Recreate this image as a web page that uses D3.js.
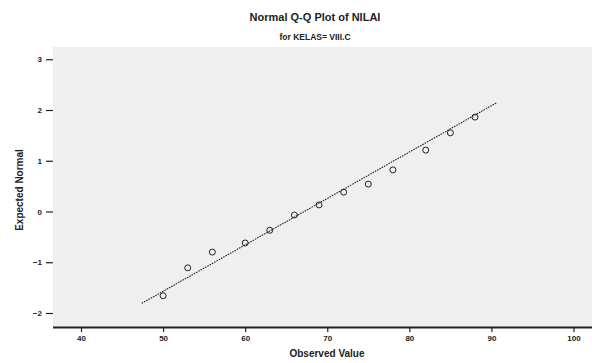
<!DOCTYPE html>
<html>
<head>
<meta charset="utf-8">
<script src="https://cdn.jsdelivr.net/npm/d3@7"></script>
<style>
  html, body { margin: 0; padding: 0; background: #fff; }
  svg { display: block; font-family: "Liberation Sans", Arial, sans-serif; }
</style>
</head>
<body>
<svg id="chart" width="592" height="363"></svg>
<script>
// Observed NILAI values and their expected normal quantiles
const observed = [50, 53, 56, 60, 63, 66, 69, 72, 75, 78, 82, 85, 88];
const expected = [-1.66, -1.11, -0.80, -0.62, -0.37, -0.07, 0.13, 0.38, 0.54, 0.82, 1.21, 1.55, 1.86];

// Reference line endpoints (x, expected normal)
const refLineX = [47.4, 90.6];
const refLineY = [-1.81, 2.14];

const xTicks = [40, 50, 60, 70, 80, 90, 100];
const yTicks = [-2, -1, 0, 1, 2, 3];

const titleText = "Normal Q-Q Plot of NILAI";
const subtitleText = "for KELAS= VIII.C";
const xTitle = "Observed Value";
const yTitle = "Expected Normal";

const svg = d3.select("#chart");
const plot = { left: 53, right: 592, top: 47, bottom: 327 };

const x = d3.scaleLinear().domain([40, 100]).range([81, 573.5]);
const y = d3.scaleLinear().domain([-2, 2]).range([313, 110]);

// plot background
svg.append("rect")
  .attr("x", plot.left).attr("y", plot.top)
  .attr("width", plot.right - plot.left).attr("height", plot.bottom - plot.top)
  .attr("fill", "#efefef");

// x axis
const xAxis = svg.append("g")
  .attr("transform", `translate(0,${plot.bottom})`)
  .call(d3.axisBottom(x).tickValues(xTicks).tickFormat(d3.format("d"))
    .tickSize(5).tickPadding(3).tickSizeOuter(0));
xAxis.select(".domain").remove();
xAxis.append("line")
  .attr("x1", plot.left).attr("x2", plot.right)
  .attr("y1", 0.5).attr("y2", 0.5)
  .attr("stroke", "#222").attr("stroke-width", 2);
xAxis.selectAll(".tick line").attr("stroke", "#222").attr("stroke-width", 1.2);
xAxis.selectAll(".tick text")
  .attr("font-size", 8).attr("font-weight", "bold").attr("fill", "#222");

// y axis
const yAxis = svg.append("g")
  .attr("transform", `translate(${plot.left},0)`)
  .call(d3.axisLeft(y).tickValues(yTicks).tickFormat(d3.format("d"))
    .tickSize(7).tickPadding(4).tickSizeOuter(0));
yAxis.select(".domain").remove();
yAxis.selectAll(".tick line").attr("stroke", "#222").attr("stroke-width", 1.2);
yAxis.selectAll(".tick text")
  .attr("font-size", 8).attr("font-weight", "bold").attr("fill", "#222");

// reference line
svg.append("line")
  .attr("x1", x(refLineX[0])).attr("y1", y(refLineY[0]))
  .attr("x2", x(refLineX[1])).attr("y2", y(refLineY[1]))
  .attr("stroke", "#222").attr("stroke-width", 1.1)
  .attr("stroke-dasharray", "1.6,1");

// observed points
svg.append("g").selectAll("circle")
  .data(observed.map((v, i) => [v, expected[i]]))
  .join("circle")
  .attr("cx", d => x(d[0]))
  .attr("cy", d => y(d[1]))
  .attr("r", 3)
  .attr("fill", "none")
  .attr("stroke", "#222")
  .attr("stroke-width", 1);

// titles
svg.append("text")
  .attr("x", 315).attr("y", 21)
  .attr("text-anchor", "middle")
  .attr("font-size", 11).attr("font-weight", "bold").attr("fill", "#222")
  .text(titleText);
svg.append("text")
  .attr("x", 315).attr("y", 40)
  .attr("text-anchor", "middle")
  .attr("font-size", 8.5).attr("font-weight", "bold").attr("fill", "#222")
  .text(subtitleText);

svg.append("text")
  .attr("x", 327).attr("y", 357)
  .attr("text-anchor", "middle")
  .attr("font-size", 10).attr("font-weight", "bold").attr("fill", "#222")
  .text(xTitle);

svg.append("text")
  .attr("transform", "translate(23,190) rotate(-90)")
  .attr("text-anchor", "middle")
  .attr("font-size", 10).attr("font-weight", "bold").attr("fill", "#222")
  .text(yTitle);
</script>
</body>
</html>
